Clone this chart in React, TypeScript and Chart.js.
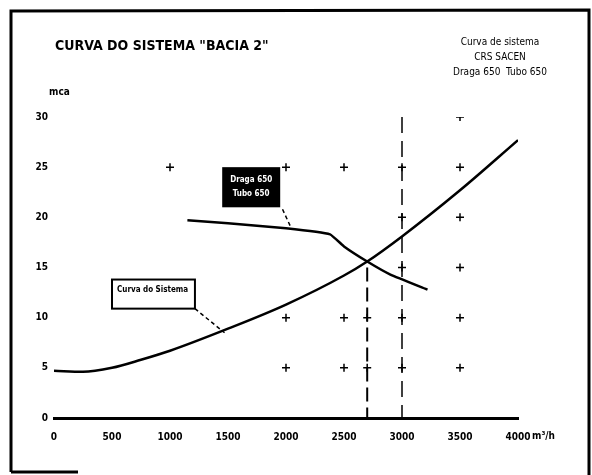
import React, { useEffect, useRef } from "react";
import { Chart, registerables } from "chart.js";

Chart.register(...registerables);

const X_TICKS = [0, 500, 1000, 1500, 2000, 2500, 3000, 3500, 4000];
const Y_TICKS = [0, 5, 10, 15, 20, 25, 30];

const SYSTEM_Q = [0, 250, 500, 750, 1000, 1500, 2000, 2500, 2700, 3000, 3500, 4000];
const SYSTEM_H = [4.7, 4.6, 5.0, 5.8, 6.7, 8.9, 11.3, 14.2, 15.6, 18.1, 22.7, 27.7];

const PUMP_Q = [1150, 1500, 2000, 2380, 2500, 2700, 2900, 3220];
const PUMP_H = [19.7, 19.4, 18.9, 18.3, 17.1, 15.6, 14.3, 12.8];

const OP_LINE_Q = [2700, 2700];
const OP_LINE_H = [15, 0];
const REF_LINE_Q = [3000, 3000];
const REF_LINE_H = [30, 0];

const MARK_Q = [1000, 2000, 2500, 3000, 3500, 3000, 3500, 3000, 3500, 2000, 2500, 2700, 3000, 3500, 2000, 2500, 2700, 3000, 3500, 3500];
const MARK_H = [25, 25, 25, 25, 25, 20, 20, 15, 15, 10, 10, 10, 10, 10, 5, 5, 5, 5, 5, 30];

const TITLE = 'CURVA DO SISTEMA "BACIA 2"';
const Y_UNIT = "mca";
const X_UNIT = "m³/h";
const NOTE_LINES = ["Curva de sistema", "CRS SACEN", "Draga 650  Tubo 650"];
const PUMP_LABEL = ["Draga 650", "Tubo 650"];
const SYSTEM_LABEL = "Curva do Sistema";

const FONT = '"Liberation Sans Narrow", "DejaVu Sans Condensed", Arial, sans-serif';

const pts = (xs: number[], ys: number[]) => xs.map((x, i) => ({ x, y: ys[i] }));

const decorPlugin = {
  id: "decor",
  afterDraw(chart: any) {
    const ctx = chart.ctx as CanvasRenderingContext2D;
    const xs = chart.scales.x;
    const ys = chart.scales.y;
    const px = (v: number) => xs.getPixelForValue(v);
    const py = (v: number) => ys.getPixelForValue(v);
    ctx.save();
    ctx.strokeStyle = "#000";
    ctx.lineWidth = 3;
    ctx.beginPath();
    ctx.moveTo(11, 472);
    ctx.lineTo(11, 11);
    ctx.lineTo(589, 10);
    ctx.lineTo(589, 475);
    ctx.moveTo(11, 472);
    ctx.lineTo(78, 472);
    ctx.stroke();

    ctx.fillStyle = "#000";
    ctx.textBaseline = "middle";
    ctx.textAlign = "left";
    ctx.font = `bold 14px ${FONT}`;
    ctx.fillText(TITLE, 55, 46);
    ctx.font = `bold 10px ${FONT}`;
    ctx.fillText(Y_UNIT, 49, 92);
    ctx.fillText(X_UNIT, 532, 436);

    ctx.textAlign = "center";
    ctx.font = `10px ${FONT}`;
    NOTE_LINES.forEach((t, i) => ctx.fillText(t, 500, 42 + i * 15));

    const bx0 = px(1450), bx1 = px(1950), by0 = py(25), by1 = py(21);
    ctx.fillStyle = "#000";
    ctx.fillRect(bx0, by0, bx1 - bx0, by1 - by0);
    ctx.fillStyle = "#fff";
    ctx.font = `bold 8px ${FONT}`;
    ctx.textAlign = "center";
    ctx.fillText(PUMP_LABEL[0], (bx0 + bx1) / 2, by0 + 13);
    ctx.fillText(PUMP_LABEL[1], (bx0 + bx1) / 2, by0 + 27);

    const sx0 = px(500), sx1 = px(1215), sy0 = py(13.8), sy1 = py(10.9);
    ctx.fillStyle = "#fff";
    ctx.fillRect(sx0, sy0, sx1 - sx0, sy1 - sy0);
    ctx.strokeStyle = "#000";
    ctx.lineWidth = 2;
    ctx.strokeRect(sx0, sy0, sx1 - sx0, sy1 - sy0);
    ctx.fillStyle = "#000";
    ctx.textAlign = "left";
    ctx.font = `bold 8px ${FONT}`;
    ctx.fillText(SYSTEM_LABEL, sx0 + 5, sy0 + 10);

    ctx.lineWidth = 1.5;
    ctx.setLineDash([4, 3]);
    ctx.beginPath();
    ctx.moveTo(px(1970), py(20.8));
    ctx.lineTo(px(2050), py(18.8));
    ctx.moveTo(px(1215), py(10.9));
    ctx.lineTo(px(1470), py(8.5));
    ctx.stroke();
    ctx.restore();
  },
};

export default function App() {
  const ref = useRef<HTMLCanvasElement | null>(null);
  useEffect(() => {
    if (!ref.current) return;
    const tickFont = { family: FONT, size: 10, weight: "bold" as const };
    const chart = new Chart(ref.current, {
      type: "scatter",
      data: {
        datasets: [
          {
            label: "Curva do Sistema",
            data: pts(SYSTEM_Q, SYSTEM_H),
            showLine: true,
            borderColor: "#000",
            borderWidth: 2.5,
            pointRadius: 0,
            tension: 0.4,
            cubicInterpolationMode: "monotone",
          },
          {
            label: "Draga 650",
            data: pts(PUMP_Q, PUMP_H),
            showLine: true,
            borderColor: "#000",
            borderWidth: 2.5,
            pointRadius: 0,
            tension: 0.1,
          },
          {
            label: "op",
            data: pts(OP_LINE_Q, OP_LINE_H),
            showLine: true,
            borderColor: "#000",
            borderWidth: 2,
            borderDash: [14, 6],
            pointRadius: 0,
          },
          {
            label: "ref",
            data: pts(REF_LINE_Q, REF_LINE_H),
            showLine: true,
            borderColor: "#000",
            borderWidth: 1.5,
            borderDash: [16, 8],
            pointRadius: 0,
          },
          {
            label: "marks",
            data: pts(MARK_Q, MARK_H),
            showLine: false,
            pointStyle: "cross",
            pointRadius: 4,
            borderColor: "#000",
            borderWidth: 1.5,
          },
        ],
      },
      options: {
        responsive: false,
        animation: false,
        devicePixelRatio: 1,
        layout: { padding: { left: 10, right: 74, top: 117, bottom: 0 } },
        plugins: { legend: { display: false }, tooltip: { enabled: false }, title: { display: false } },
        scales: {
          x: {
            type: "linear",
            min: 0,
            max: 4000,
            afterBuildTicks: (s: any) => {
              s.ticks = X_TICKS.map((v) => ({ value: v }));
            },
            afterFit: (s: any) => {
              s.height = 57;
            },
            grid: { display: false, drawTicks: false },
            border: { display: true, color: "#000", width: 3 },
            ticks: { color: "#000", font: tickFont, padding: 13, maxRotation: 0, autoSkip: false, callback: (v: any) => String(v) },
          },
          y: {
            type: "linear",
            min: 0,
            max: 30,
            afterBuildTicks: (s: any) => {
              s.ticks = Y_TICKS.map((v) => ({ value: v }));
            },
            afterFit: (s: any) => {
              s.width = 44;
            },
            grid: { display: false, drawTicks: false },
            border: { display: false },
            ticks: { color: "#000", font: tickFont, padding: 6, callback: (v: any) => String(v) },
          },
        },
      },
      plugins: [decorPlugin],
    });
    return () => chart.destroy();
  }, []);
  return (
    <div style={{ position: "fixed", left: 0, top: 0, width: 592, height: 475, background: "#fff" }}>
      <canvas ref={ref} width={592} height={475} style={{ width: 592, height: 475 }} />
    </div>
  );
}
